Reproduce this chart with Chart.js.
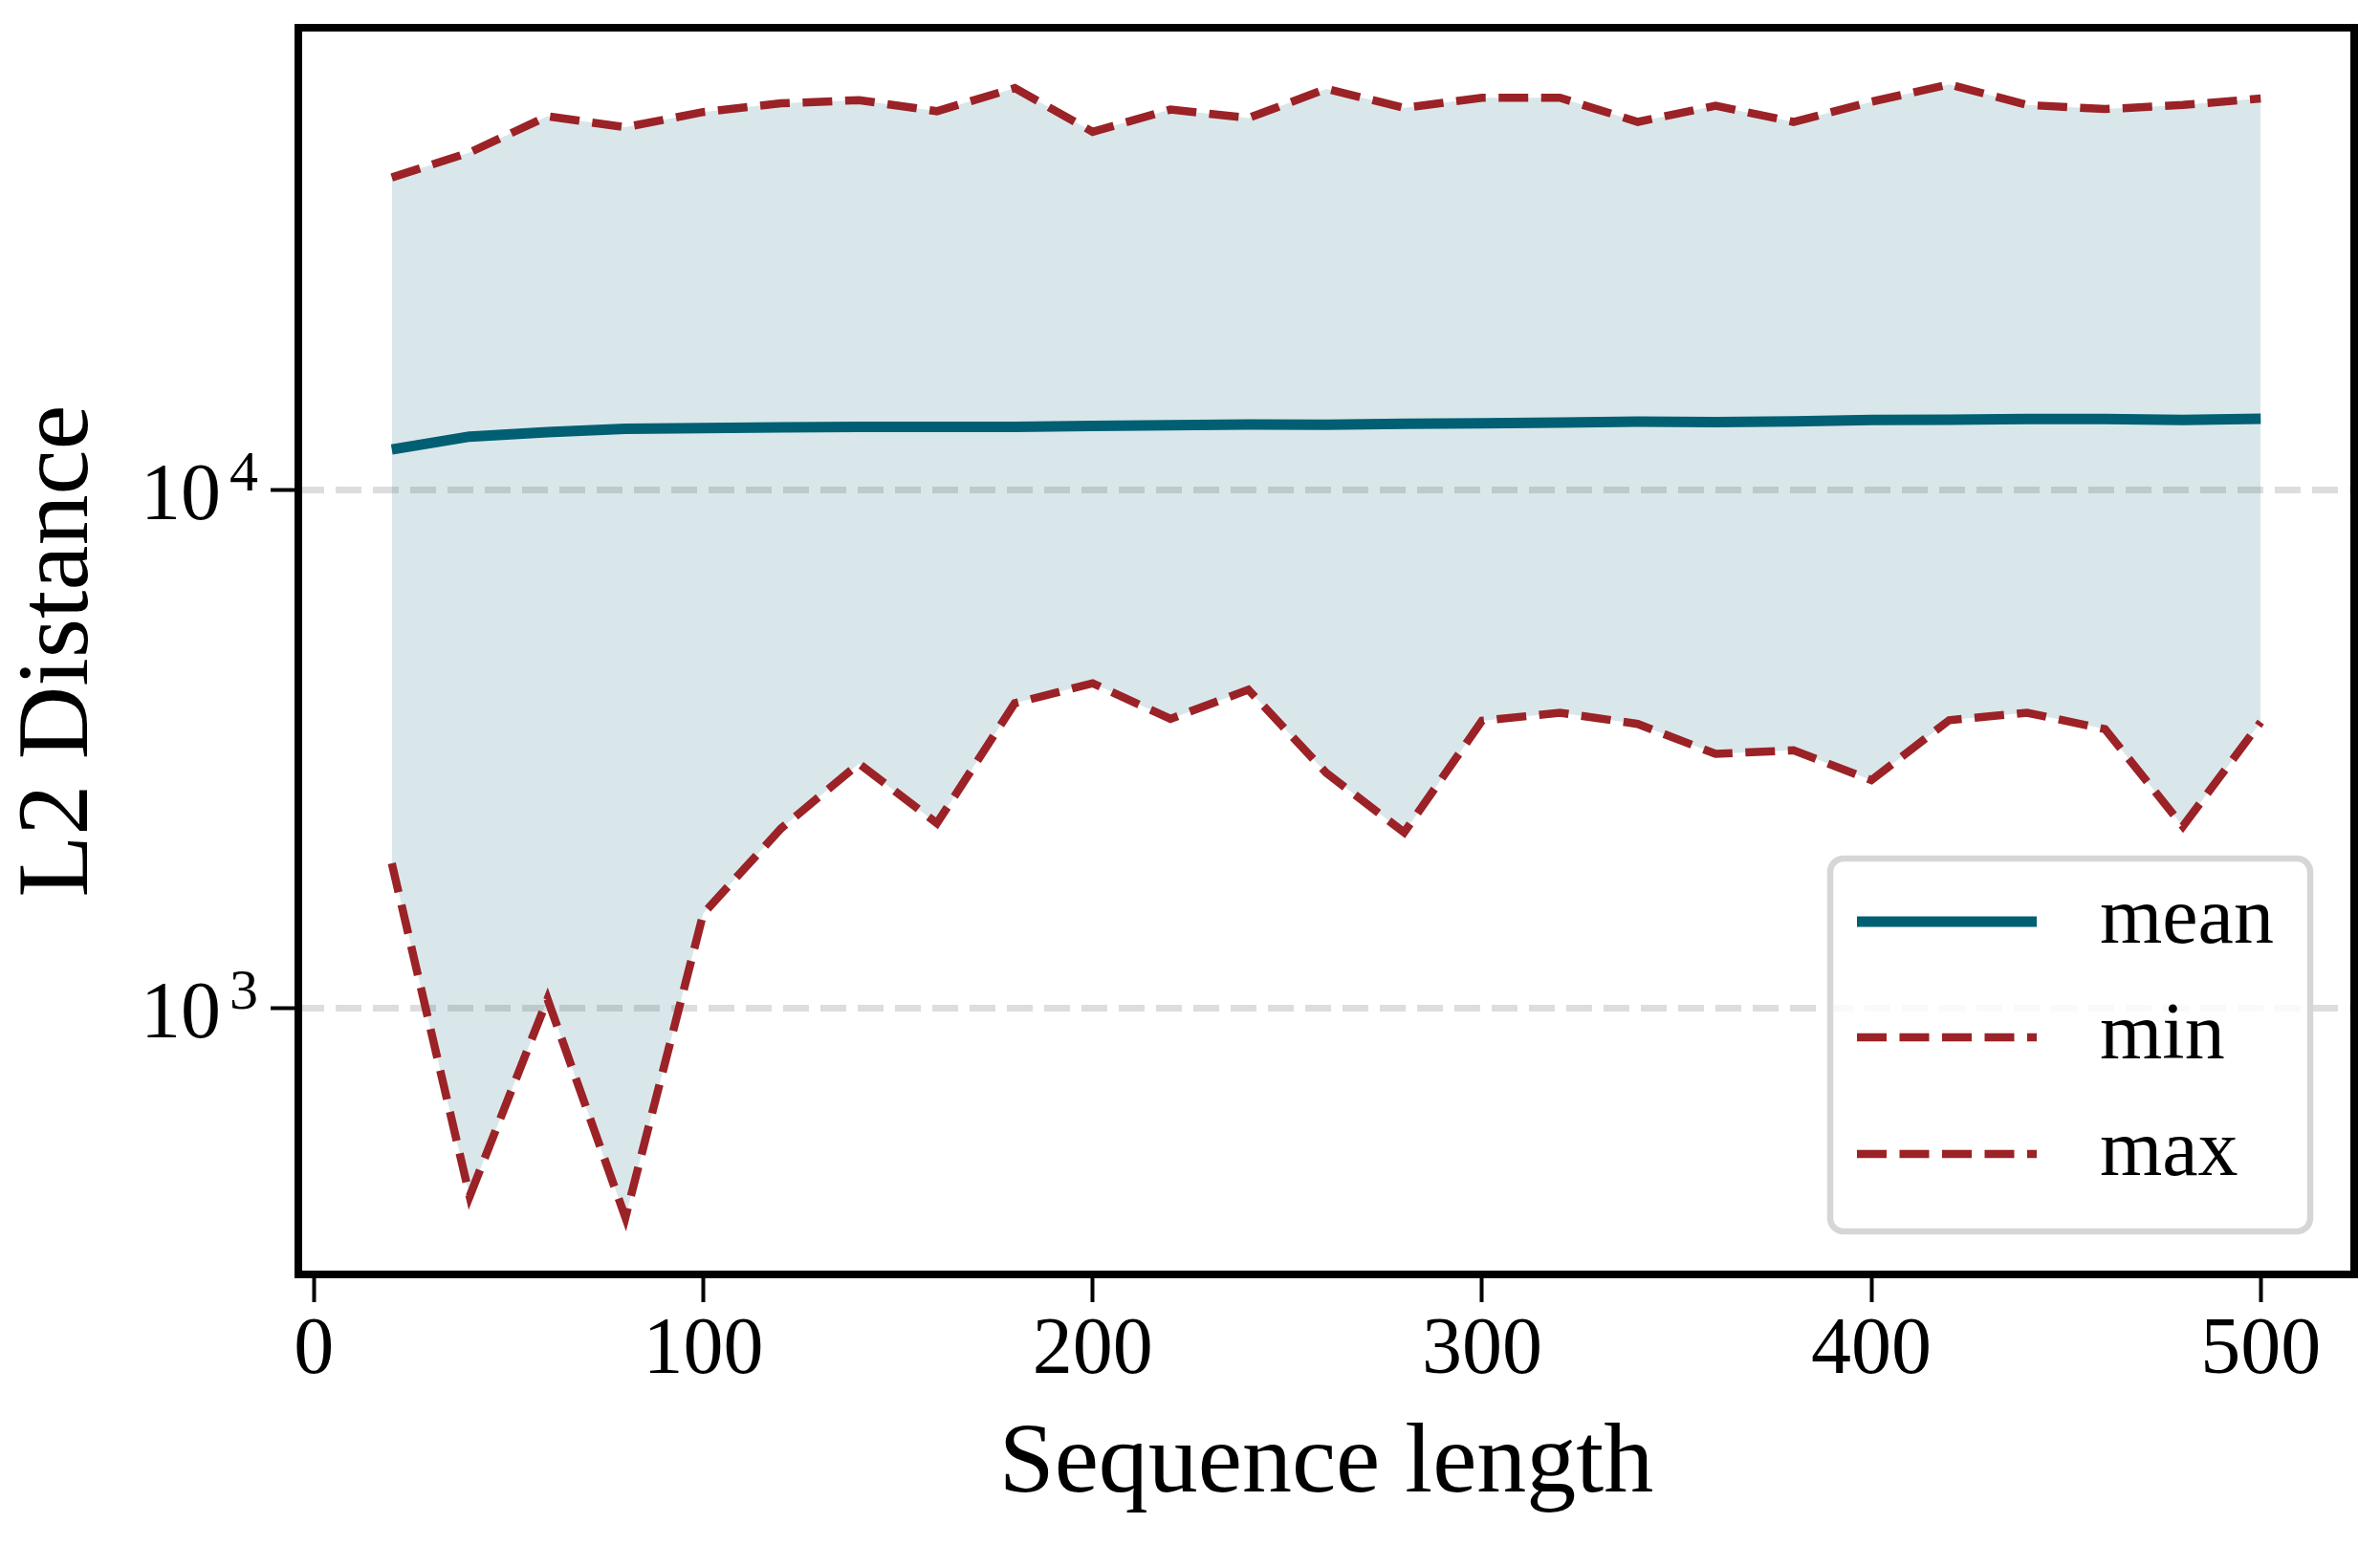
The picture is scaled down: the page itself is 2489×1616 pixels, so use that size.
<!DOCTYPE html>
<html>
<head>
<meta charset="utf-8">
<script src="https://cdn.jsdelivr.net/npm/chart.js@4.4.1/dist/chart.umd.min.js"></script>
<style>
html, body { margin: 0; padding: 0; background: #fff; }
canvas { display: block; }
</style>
</head>
<body>
<canvas id="c" width="2489" height="1616"></canvas>
<script>
const seqLengths = [20, 40, 60, 80, 100, 120, 140, 160, 180, 200, 220, 240, 260,
                    280, 300, 320, 340, 360, 380, 400, 420, 440, 460, 480, 500];
const meanDist = [11950, 12650, 12900, 13100, 13140, 13180, 13210, 13210, 13210, 13270, 13310, 13350, 13330,
                  13390, 13420, 13460, 13520, 13500, 13540, 13620, 13630, 13680, 13680, 13620, 13700];
const minDist = [1900, 433, 1040, 394, 1520, 2220, 2960, 2270, 3870, 4230, 3610, 4110, 2840,
                 2180, 3580, 3710, 3530, 3090, 3140, 2750, 3590, 3710, 3450, 2240, 3560];
const maxDist = [40000, 44700, 52500, 50000, 53500, 55600, 56400, 53700, 59500, 49000, 54100, 52100, 59300,
                 54500, 57000, 57000, 51200, 55000, 51200, 56000, 60500, 55200, 54200, 55200, 56800];
const xTicks = [0, 100, 200, 300, 400, 500];
const yTicks = [1000, 10000];
const yTickBase = '10';
const yTickExps = ['3', '4'];

const SERIF = "'Liberation Serif', 'DejaVu Serif', serif";
const TEAL = '#005f73';
const RED = '#9b2226';

// y tick labels as 10 + raised exponent, box round the plot, legend lower right
const framePlugin = {
    id: 'frame',
    afterDraw(chart) {
        const ctx = chart.ctx;
        const a = chart.chartArea;
        const ys = chart.scales.y;
        ctx.save();
        ctx.fillStyle = '#000';
        ctx.textBaseline = 'alphabetic';
        ys.ticks.forEach((t, i) => {
            const py = ys.getPixelForValue(t.value);
            ctx.font = '84px ' + SERIF;
            ctx.textAlign = 'right';
            ctx.fillText(yTickBase, ys.right - 81, py + 31);
            ctx.font = '60px ' + SERIF;
            ctx.textAlign = 'left';
            ctx.fillText(yTickExps[i], ys.right - 72, py + 1);
        });

        ctx.strokeStyle = '#000';
        ctx.lineWidth = 8;
        ctx.strokeRect(a.left, a.top, a.right - a.left, a.bottom - a.top);

        const bx = a.right - 548, by = a.bottom - 435, bw = 502, bh = 390;
        ctx.beginPath();
        ctx.roundRect(bx, by, bw, bh, 14);
        ctx.fillStyle = 'rgba(255,255,255,0.8)';
        ctx.fill();
        ctx.lineWidth = 6.5;
        ctx.strokeStyle = '#d6d6d6';
        ctx.stroke();

        const rows = [66, 187, 309];
        chart.data.datasets.forEach((ds, i) => {
            const y = by + rows[i];
            ctx.beginPath();
            ctx.setLineDash(ds.borderDash || []);
            ctx.lineWidth = ds.borderWidth;
            ctx.strokeStyle = ds.borderColor;
            ctx.moveTo(bx + 28, y);
            ctx.lineTo(bx + 216, y);
            ctx.stroke();
            ctx.setLineDash([]);
            ctx.fillStyle = '#000';
            ctx.font = '84px ' + SERIF;
            ctx.textBaseline = 'middle';
            ctx.textAlign = 'left';
            ctx.fillText(ds.label, bx + 282, y);
        });
        ctx.restore();
    }
};

new Chart(document.getElementById('c'), {
    type: 'line',
    data: {
        labels: seqLengths,
        datasets: [
            {label: 'mean', data: meanDist, borderColor: TEAL, borderWidth: 11,
             borderJoinStyle: 'round', fill: false},
            {label: 'min', data: minDist, borderColor: RED, borderWidth: 8.5,
             borderDash: [31, 13.5], fill: false},
            {label: 'max', data: maxDist, borderColor: RED, borderWidth: 8.5,
             borderDash: [31, 13.5], fill: '-1', backgroundColor: 'rgba(0,95,115,0.15)'}
        ]
    },
    options: {
        responsive: false,
        devicePixelRatio: 1,
        animation: false,
        layout: {padding: {top: 29, right: 27, left: 0, bottom: 0}},
        elements: {point: {radius: 0}, line: {tension: 0}},
        plugins: {
            legend: {display: false},
            tooltip: {enabled: false},
            filler: {drawTime: 'beforeDraw'}
        },
        scales: {
            x: {
                type: 'linear',
                min: -4, max: 524,
                afterBuildTicks: s => { s.ticks = xTicks.map(v => ({value: v})); },
                afterFit: s => { s.height = 283; },
                border: {display: false},
                grid: {drawOnChartArea: false, drawTicks: true, tickLength: 29,
                       tickWidth: 4, tickColor: '#000'},
                ticks: {color: '#000', padding: 2, maxRotation: 0,
                        font: {family: SERIF, size: 84}},
                title: {display: true, text: 'Sequence length', color: '#000',
                        padding: {top: 0, bottom: 21},
                        font: {family: SERIF, size: 104}}
            },
            y: {
                type: 'logarithmic',
                min: 306, max: 77800,
                afterBuildTicks: s => { s.ticks = yTicks.map(v => ({value: v})); },
                afterFit: s => { s.width = 312; s.paddingTop = 0; s.paddingBottom = 0; },
                border: {display: false, dash: [27, 12]},
                grid: {color: 'rgba(0,0,0,0.135)', lineWidth: 7, drawTicks: true,
                       tickLength: 29, tickWidth: 4, tickColor: '#000', tickBorderDash: []},
                ticks: {display: false},
                title: {display: true, text: 'L2 Distance', color: '#000',
                        padding: {top: 0, bottom: 0},
                        font: {family: SERIF, size: 106}}
            }
        }
    },
    plugins: [framePlugin]
});
</script>
</body>
</html>
